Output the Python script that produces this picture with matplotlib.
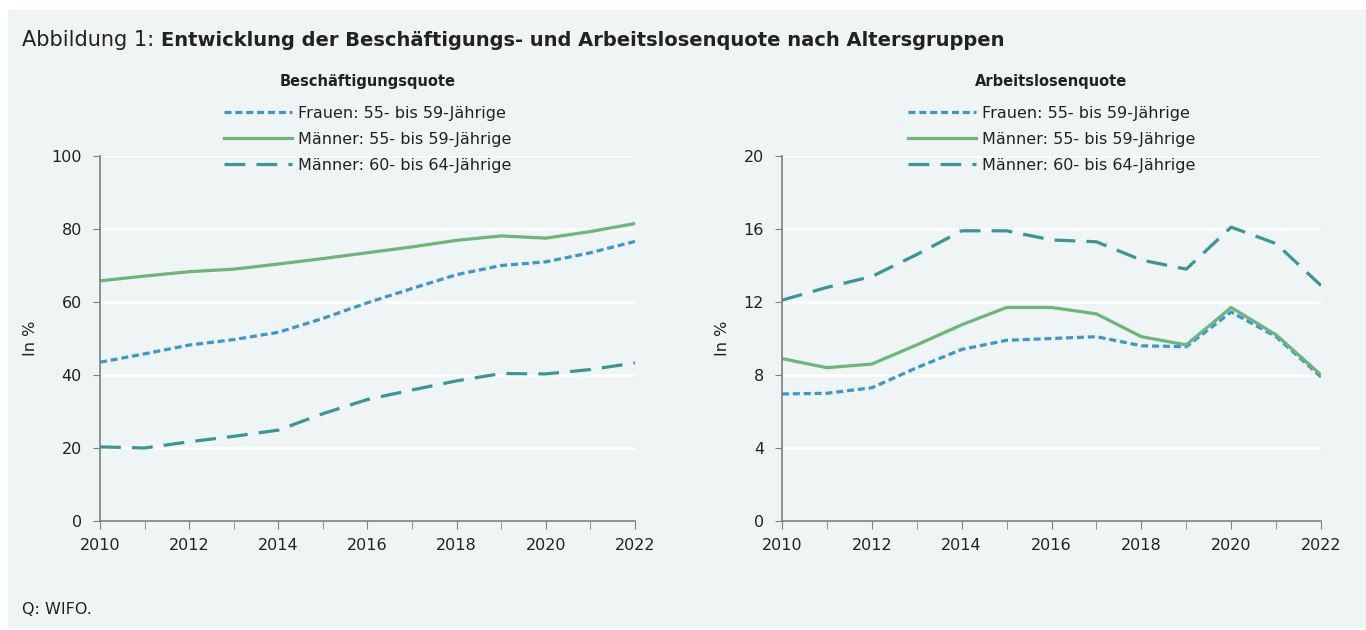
import matplotlib
matplotlib.use('Agg')
import matplotlib.pyplot as plt
from matplotlib.patches import Rectangle
from matplotlib.ticker import MultipleLocator

plt.rcParams['font.family'] = ['DejaVu Sans']

years = list(range(2010, 2023))
labels = ['Frauen: 55- bis 59-Jährige',
          'Männer: 55- bis 59-Jährige',
          'Männer: 60- bis 64-Jährige']

# Beschäftigungsquote in %
emp_w55 = [43.5, 45.8, 48.2, 49.7, 51.7, 55.5, 59.8, 63.7, 67.5, 70.0, 71.0, 73.5, 76.6]
emp_m55 = [65.8, 67.1, 68.3, 69.0, 70.4, 71.9, 73.5, 75.1, 76.9, 78.1, 77.5, 79.3, 81.5]
emp_m60 = [20.3, 20.0, 21.7, 23.2, 24.9, 29.4, 33.3, 35.9, 38.4, 40.4, 40.3, 41.5, 43.3]

# Arbeitslosenquote in %
unemp_w55 = [6.96, 7.0, 7.3, 8.4, 9.4, 9.9, 10.0, 10.1, 9.6, 9.55, 11.45, 10.1, 7.9]
unemp_m55 = [8.9, 8.4, 8.6, 9.65, 10.75, 11.7, 11.7, 11.35, 10.1, 9.65, 11.7, 10.2, 8.0]
unemp_m60 = [12.1, 12.8, 13.4, 14.6, 15.9, 15.9, 15.4, 15.3, 14.3, 13.8, 16.1, 15.2, 12.9]

bg = '#eff5f5'
c_blue = '#3d95d4'
c_green = '#6cb57b'
c_teal = '#3a9595'
axis_col = '#7f7f7f'
txt_col = '#222222'

fig = plt.figure(figsize=(13.66, 6.3), dpi=100)
fig.patch.set_facecolor('white')
fig.patches.append(Rectangle((8 / 1366, 2 / 630), 1358 / 1366, 618 / 630,
                             transform=fig.transFigure, facecolor=bg,
                             edgecolor='none', zorder=-10))


def setup(ax, series, ymax, ystep, title):
    ax.set_facecolor(bg)
    s1, s2, s3 = series
    ax.plot(years, s1, color=c_blue, lw=2.3, dashes=(2.2, 1.2), label=labels[0])
    ax.plot(years, s2, color=c_green, lw=2.3, label=labels[1])
    ax.plot(years, s3, color=c_teal, lw=2.3, dashes=(6.5, 3.5), label=labels[2])
    ax.set_xlim(2010, 2022)
    ax.set_ylim(0, ymax)
    ax.yaxis.set_major_locator(MultipleLocator(ystep))
    ax.xaxis.set_major_locator(MultipleLocator(2))
    ax.xaxis.set_minor_locator(MultipleLocator(1))
    ax.grid(axis='y', color='white', lw=2)
    ax.set_axisbelow(True)
    for s in ['top', 'right']:
        ax.spines[s].set_visible(False)
    for s in ['left', 'bottom']:
        ax.spines[s].set_color(axis_col)
        ax.spines[s].set_linewidth(1.2)
    ax.tick_params(axis='both', which='both', color=axis_col, direction='out',
                   labelsize=11.5, labelcolor=txt_col)
    ax.tick_params(axis='x', which='both', length=6, pad=6)
    ax.tick_params(axis='y', length=5, pad=8)
    ax.set_ylabel('In %', fontsize=11.5, labelpad=10, color=txt_col)
    ax.text(0.5, 1.203, title, transform=ax.transAxes, ha='center', va='center',
            fontsize=10.5, fontweight='bold', color=txt_col)
    leg = ax.legend(loc='upper center', bbox_to_anchor=(0.5, 1.137), frameon=False,
                    fontsize=11.5, handlelength=4.3, handletextpad=0.35,
                    labelspacing=0.68, borderaxespad=0, borderpad=0)
    for t in leg.get_texts():
        t.set_color(txt_col)


ax1 = fig.add_axes([100 / 1366, 109 / 630, 535 / 1366, 365 / 630])
setup(ax1, (emp_w55, emp_m55, emp_m60), 100, 20, 'Beschäftigungsquote')

ax2 = fig.add_axes([782 / 1366, 109 / 630, 539 / 1366, 365 / 630])
setup(ax2, (unemp_w55, unemp_m55, unemp_m60), 20, 4, 'Arbeitslosenquote')

t1 = fig.text(22 / 1366, 1 - 40 / 630, 'Abbildung 1: ', fontsize=15, va='center',
              color=txt_col)
fig.canvas.draw()
bb = t1.get_window_extent()
fig.text(bb.x1 / 1366, 1 - 40 / 630,
         'Entwicklung der Beschäftigungs- und Arbeitslosenquote nach Altersgruppen',
         fontsize=14, fontweight='bold', va='center', color=txt_col)

fig.text(22 / 1366, 1 - 610 / 630, 'Q: WIFO.', fontsize=11.5, va='center', color=txt_col)

fig.savefig('out.png', dpi=100, facecolor='white')
